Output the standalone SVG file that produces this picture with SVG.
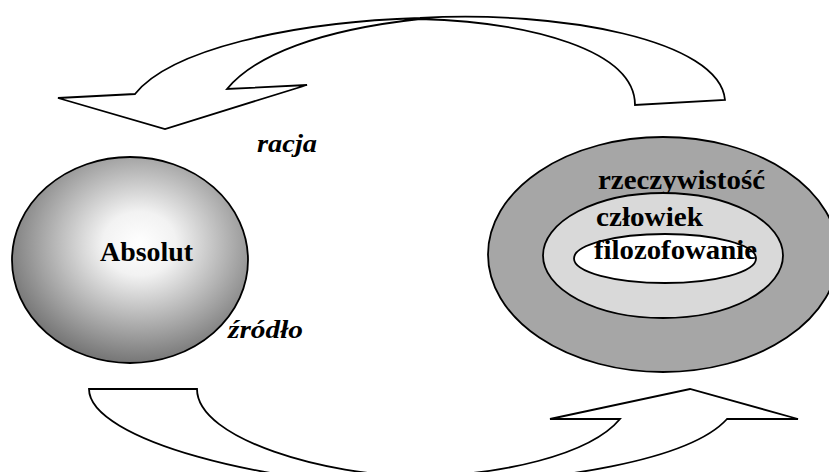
<svg xmlns="http://www.w3.org/2000/svg" width="829" height="472" viewBox="0 0 829 472">
  <defs>
    <radialGradient id="gAbs" cx="0.54" cy="0.42" r="0.62">
      <stop offset="0" stop-color="#ffffff"/>
      <stop offset="0.25" stop-color="#f2f2f2"/>
      <stop offset="1" stop-color="#6b6b6b"/>
    </radialGradient>
  </defs>
  <style>
    .shape { stroke: #000; stroke-width: 1.8; }
    .arrow { fill: #fff; stroke: #000; stroke-width: 1.8; stroke-linejoin: miter; }
    .lbl { font-family: "Liberation Serif", "Times New Roman", serif; font-weight: bold; font-size: 27px; fill: #000; }
    .it { font-family: "Liberation Serif", "Times New Roman", serif; font-weight: bold; font-style: italic; font-size: 26px; fill: #000; }
  </style>
  <rect width="829" height="472" fill="#fff"/>

  <g id="connectors">
    <path class="arrow" d="M58,98 L135,94 C170,50 290,22 420,18 C560,10 720,40 725,100 L635,105 C635,50 530,22 420,19 C320,30 255,55 227,89 L307,85 L165,129 Z"/>
    <path class="arrow" d="M89,389 L197,389 C197,440 330,476 415,476 C500,476 590,455 620,419 L550,419 L690,389 L798,419 L727,419 C690,460 560,482 415,486 C270,486 89,440 89,389 Z"/>
    <text class="it" x="257" y="152" textLength="60" lengthAdjust="spacingAndGlyphs">racja</text>
    <text class="it" x="228" y="338" textLength="75" lengthAdjust="spacingAndGlyphs">źródło</text>
  </g>

  <g id="absolut">
    <ellipse class="shape" cx="130" cy="260" rx="118" ry="103" fill="url(#gAbs)"/>
    <text class="lbl" x="100" y="261" textLength="93" lengthAdjust="spacingAndGlyphs">Absolut</text>
  </g>

  <g id="rzeczywistosc">
    <ellipse class="shape" cx="663" cy="254.5" rx="175" ry="117.5" fill="#a6a6a6"/>
    <text class="lbl" x="598" y="189" textLength="167" lengthAdjust="spacingAndGlyphs">rzeczywistość</text>
  </g>

  <g id="czlowiek">
    <ellipse class="shape" cx="663" cy="255.5" rx="120" ry="62.5" fill="#d9d9d9"/>
    <text class="lbl" x="596" y="226" textLength="107" lengthAdjust="spacingAndGlyphs">człowiek</text>
  </g>

  <g id="filozofowanie">
    <ellipse class="shape" cx="665" cy="258.5" rx="91" ry="24.5" fill="#ffffff"/>
    <text class="lbl" x="594" y="259" textLength="163" lengthAdjust="spacingAndGlyphs">filozofowanie</text>
  </g>
</svg>
